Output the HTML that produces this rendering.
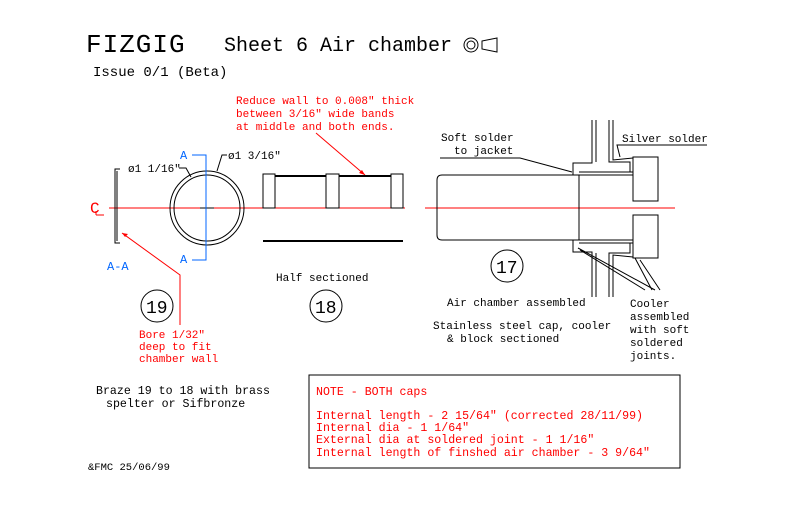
<!DOCTYPE html>
<html><head><meta charset="utf-8"><style>
html,body{margin:0;padding:0;background:#fff;}
svg{display:block;}
text{font-family:"Liberation Mono",monospace;}
</style></head><body>
<svg width="812" height="517" viewBox="0 0 812 517" xmlns="http://www.w3.org/2000/svg">
<rect width="812" height="517" fill="#fff"/>
<g fill="#000">
<text x="86" y="52" font-size="26" letter-spacing="1">FIZGIG</text>
<text x="224" y="51" font-size="20">Sheet 6 Air chamber</text>
<circle cx="471" cy="45" r="7" fill="none" stroke="#000"/><circle cx="471" cy="45" r="4" fill="none" stroke="#000"/>
<path d="M482 41 L497 38 L497 52 L482 49 Z" fill="none" stroke="#000"/>
<text x="93" y="76" font-size="14">Issue 0/1 (Beta)</text>
</g>
<g fill="#f00" font-size="11">
<text x="236" y="104">Reduce wall to 0.008" thick</text>
<text x="236" y="117">between 3/16" wide bands</text>
<text x="236" y="130">at middle and both ends.</text>
<text x="139" y="338">Bore 1/32"</text>
<text x="139" y="350">deep to fit</text>
<text x="139" y="362">chamber wall</text>
</g>
<line x1="316" y1="133" x2="365" y2="175" stroke="#f00"/>
<path d="M122 233 L180 275 L180 325" stroke="#f00" fill="none"/>
<path d="M122 233 L128 234 L125 237 Z" fill="#f00"/>
<path d="M365 175 L359 173 L362 170 Z" fill="#f00"/>
<line x1="109" y1="208" x2="405" y2="208" stroke="#f00"/>
<line x1="425" y1="208" x2="675" y2="208" stroke="#f00"/>
<text x="90" y="213" fill="#f00" font-size="16">C</text>
<line x1="96" y1="211" x2="96" y2="215" stroke="#f00"/><line x1="96" y1="215" x2="104" y2="215" stroke="#f00"/>
<path d="M120 169 L115 169 L115 243 L120 243 M117 171 L117 241" stroke="#000" fill="none"/>
<circle cx="207" cy="208" r="37" fill="none" stroke="#000"/>
<circle cx="207" cy="208" r="33" fill="none" stroke="#000"/>
<line x1="200" y1="208" x2="214" y2="208" stroke="#000"/>
<path d="M192 155 L206 155 L206 260 L192 260" stroke="#06f" fill="none"/>
<g fill="#06f" font-size="12"><text x="180" y="159">A</text><text x="180" y="263">A</text><text x="107" y="270">A-A</text></g>
<g font-size="11"><text x="128" y="172">ø1 1/16"</text><text x="228" y="159">ø1 3/16"</text></g>
<path d="M179 168 L186 168 L191 177" stroke="#000" fill="none"/>
<path d="M227 155 L222 155 L217 171" stroke="#000" fill="none"/>
<g stroke="#000" fill="none">
<rect x="263" y="174" width="12" height="34"/><rect x="326" y="174" width="13" height="34"/><rect x="391" y="174" width="12" height="34"/>
<line x1="275" y1="176" x2="326" y2="176" stroke-width="2"/><line x1="339" y1="176" x2="391" y2="176" stroke-width="2"/>
<line x1="263" y1="241" x2="403" y2="241" stroke-width="2"/>
</g>
<text x="276" y="281" font-size="11">Half sectioned</text>
<circle cx="157" cy="306" r="16" fill="none" stroke="#000"/><text x="146" y="313" font-size="18" font-family="Liberation Sans,sans-serif">19</text>
<circle cx="326" cy="306" r="16" fill="none" stroke="#000"/><text x="315" y="313" font-size="18" font-family="Liberation Sans,sans-serif">18</text>
<circle cx="507" cy="266" r="16" fill="none" stroke="#000"/><text x="496" y="273" font-size="18" font-family="Liberation Sans,sans-serif">17</text>
<g stroke="#000" fill="none">
<path d="M633 175 L442 175 Q437 175 437 180 L437 235 Q437 240 442 240 L633 240"/>
<line x1="579" y1="175" x2="579" y2="240"/>
<path d="M579 172 L633 172 M579 243 L633 243"/>
<path d="M592 120 L592 163 L573 163 L573 175 M596 120 L596 162 M609 120 L609 162 L630 162 L630 172 M613 120 L613 160 L633 158"/>
<path d="M592 297 L592 252 L573 252 L573 240 M596 297 L596 253 M609 297 L609 253 L630 253 L630 243 M613 297 L613 255 L633 257"/>
<rect x="633" y="157" width="25" height="44"/><rect x="633" y="215" width="25" height="43"/>
<path d="M440 158 L520 158 L572 172"/>
<path d="M620 157 L617 145 L707 145"/>
<path d="M578 248 L655 290 M580 250 L645 290 M635 258 L652 290 M640 260 L660 290"/>
</g>
<g font-size="11">
<text x="441" y="141">Soft solder</text><text x="454" y="154">to jacket</text>
<text x="622" y="142">Silver solder</text>
<text x="447" y="306">Air chamber assembled</text>
<text x="433" y="329">Stainless steel cap, cooler</text>
<text x="447" y="342">&amp; block sectioned</text>
<text x="630" y="307">Cooler</text><text x="630" y="320">assembled</text><text x="630" y="333">with soft</text><text x="630" y="346">soldered</text><text x="630" y="359">joints.</text>
<text x="96" y="394" font-size="11.6">Braze 19 to 18 with brass</text>
<text x="106" y="407" font-size="11.6">spelter or Sifbronze</text>
<text x="88" y="470" font-size="10.5">&amp;FMC 25/06/99</text>
</g>
<rect x="309" y="375" width="371" height="93" fill="none" stroke="#000"/>
<g fill="#f00" font-size="11.6">
<text x="316" y="395">NOTE - BOTH caps</text>
<text x="316" y="419">Internal length - 2 15/64" (corrected 28/11/99)</text>
<text x="316" y="431">Internal dia - 1 1/64"</text>
<text x="316" y="443">External dia at soldered joint - 1 1/16"</text>
<text x="316" y="456">Internal length of finshed air chamber - 3 9/64"</text>
</g>
</svg>
</body></html>
